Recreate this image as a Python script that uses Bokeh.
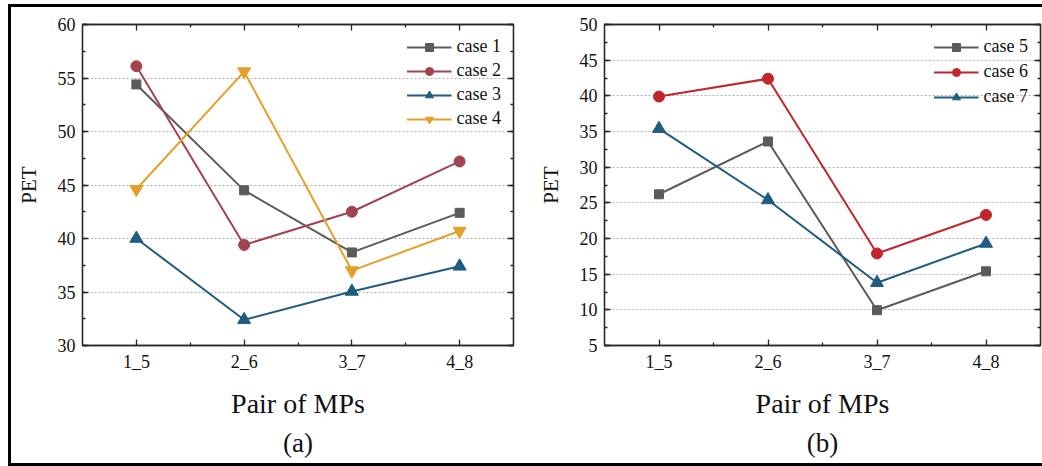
from bokeh.plotting import figure
from bokeh.models import Range1d, SingleIntervalTicker, FixedTicker, LinearAxis, Title
from bokeh.layouts import row
from bokeh.embed import file_html
from bokeh.resources import INLINE

# ---- data ----
pairs = ["1_5", "2_6", "3_7", "4_8"]
case1 = [54.4, 44.5, 38.7, 42.4]
case2 = [56.1, 39.4, 42.5, 47.2]
case3 = [40.0, 32.4, 35.05, 37.4]
case4 = [44.6, 55.6, 37.0, 40.7]
case5 = [26.2, 33.6, 9.95, 15.4]
case6 = [39.9, 42.4, 17.9, 23.3]
case7 = [35.4, 25.4, 13.8, 19.3]
labels_a = ["case 1", "case 2", "case 3", "case 4"]
labels_b = ["case 5", "case 6", "case 7"]
y_range_a = (30, 60)
y_range_b = (5, 50)
x_title = "Pair of MPs"
y_title = "PET"

FONT = "Liberation Serif"
AX = "#262626"

xs = list(range(1, len(pairs) + 1))
minor_x = [x + 0.5 for x in xs[:-1]]
overrides = {x: lab for x, lab in zip(xs, pairs)}


def style_axis(ax):
    ax.axis_line_color = AX
    ax.axis_line_width = 1.3
    ax.major_tick_line_color = AX
    ax.minor_tick_line_color = AX
    ax.major_tick_line_width = 1.3
    ax.minor_tick_line_width = 1.3
    ax.major_tick_in = 6
    ax.major_tick_out = 0
    ax.minor_tick_in = 3
    ax.minor_tick_out = 0
    ax.major_label_text_font = FONT
    ax.major_label_text_font_size = "18px"
    ax.major_label_text_color = "#111111"
    ax.axis_label_text_font = FONT
    ax.axis_label_text_font_style = "normal"
    ax.axis_label_text_color = "#111111"


def panel(series, names, colors, markers, sizes, yr, caption, w, mbl, mbr, mbb,
          spacing, xlab_standoff):
    p = figure(width=w, height=456, output_backend="svg", toolbar_location=None,
               x_range=Range1d(xs[0] - 0.5, xs[-1] + 0.5), y_range=Range1d(*yr),
               min_border_left=mbl, min_border_right=mbr, min_border_top=17,
               min_border_bottom=mbb)
    p.outline_line_color = AX
    p.outline_line_width = 1.3
    p.xgrid.visible = False
    yt = SingleIntervalTicker(interval=5, num_minor_ticks=2)
    p.yaxis.ticker = yt
    p.ygrid.ticker = yt
    p.ygrid.grid_line_color = "#b0b0b0"
    p.ygrid.grid_line_dash = "2 2"
    p.ygrid.grid_line_width = 1
    p.xaxis.ticker = FixedTicker(ticks=xs, minor_ticks=minor_x)
    p.xaxis.major_label_overrides = overrides
    for ax in p.xaxis + p.yaxis:
        style_axis(ax)
    p.xaxis.axis_label = x_title
    p.xaxis.axis_label_text_font_size = "28px"
    p.xaxis.major_label_standoff = 6
    p.xaxis.axis_label_standoff = xlab_standoff
    p.yaxis.axis_label = y_title
    p.yaxis.axis_label_text_font_size = "21px"
    p.yaxis.major_label_standoff = 7
    p.yaxis.axis_label_standoff = 14

    top = LinearAxis(ticker=FixedTicker(ticks=xs, minor_ticks=minor_x))
    right = LinearAxis(ticker=SingleIntervalTicker(interval=5, num_minor_ticks=2))
    for ax in (top, right):
        style_axis(ax)
        ax.major_label_text_font_size = "0px"
        ax.major_label_text_color = None
        ax.major_label_standoff = 0
    p.add_layout(top, "above")
    p.add_layout(right, "right")

    for ys, nm, c, m, s in zip(series, names, colors, markers, sizes):
        p.line(xs, ys, line_color=c, line_width=2, legend_label=nm)
        p.scatter(xs, ys, marker=m, size=s, fill_color=c, line_color=c, legend_label=nm)

    lg = p.legend[0]
    lg.location = "top_right"
    lg.glyph_width = 45
    lg.glyph_height = 20
    lg.label_height = 20
    lg.spacing = spacing
    lg.label_standoff = 5
    lg.padding = 8
    lg.margin = 12
    lg.border_line_color = None
    lg.background_fill_alpha = 0
    lg.label_text_font = FONT
    lg.label_text_font_size = "18px"
    lg.label_text_color = "#111111"

    p.add_layout(Title(text=caption, align="center", text_font=FONT,
                       text_font_size="27px", text_font_style="normal",
                       text_color="#111111", standoff=8), "below")
    return p


p1 = panel([case1, case2, case3, case4], labels_a,
           ["#5b5b5b", "#a3434f", "#1f5c80", "#e5a02c"],
           ["square", "circle", "triangle", "inverted_triangle"],
           [9, 11, 13, 13], y_range_a, "(a)", 509, 71, 7, 118, 3, 13)
p2 = panel([case5, case6, case7], labels_b,
           ["#5b5b5b", "#c0262b", "#1f5c80"],
           ["square", "circle", "triangle"],
           [9, 11, 13], y_range_b, "(b)", 522, 84, 2, 114, 4, 13)

layout = row(p1, p2, styles={"border-left": "3px solid black",
                             "border-top": "3px solid black",
                             "border-bottom": "3px solid black",
                             "margin-left": "8px", "margin-top": "4px"})

open("out.html", "w").write(file_html(layout, INLINE))
